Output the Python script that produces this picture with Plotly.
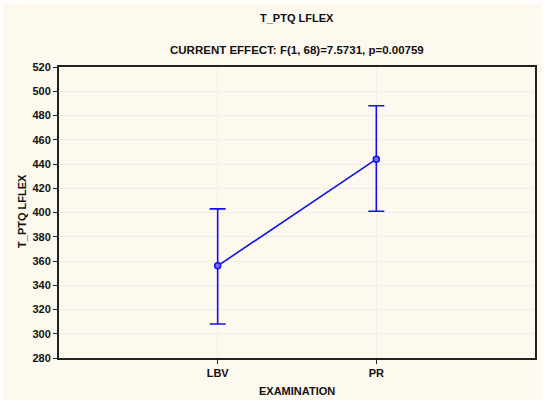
import plotly.graph_objects as go

# values
examinations = ["LBV", "PR"]
means = [356, 444]
upper = [403, 488]
lower = [308, 401]
y_ticks = list(range(280, 521, 20))

err_plus = [u - m for u, m in zip(upper, means)]
err_minus = [m - l for m, l in zip(means, lower)]

BLUE = "#1010f0"
FONT = "Liberation Sans, Arial, sans-serif"
DARK = "#222222"

fig = go.Figure(
    go.Scatter(
        x=[0, 1],
        y=means,
        mode="lines+markers",
        line=dict(color=BLUE, width=1.6),
        marker=dict(symbol="circle", size=6, color="#6f6ff7", line=dict(color=BLUE, width=1.5)),
        error_y=dict(type="data", symmetric=False, array=err_plus, arrayminus=err_minus,
                     color=BLUE, thickness=1.6, width=8),
        showlegend=False,
    )
)

text_common = dict(xref="paper", yref="paper", showarrow=False, xanchor="center", yanchor="middle")

fig.update_layout(
    width=550,
    height=409,
    margin=dict(l=59, r=15, t=67, b=51),
    paper_bgcolor="white",
    plot_bgcolor="white",
    font=dict(family=FONT, size=11, color="#111111"),
    annotations=[
        dict(text="<b>T_PTQ LFLEX</b>", x=0.5, y=1.168, font=dict(size=11), **text_common),
        dict(text="<b>CURRENT EFFECT: F(1, 68)=7.5731, p=0.00759</b>", x=0.5, y=1.058,
             font=dict(size=11.5), **text_common),
        dict(text="<b>EXAMINATION</b>", x=0.5, y=-0.113, font=dict(size=11), **text_common),
        dict(text="<b>T_PTQ LFLEX</b>", x=-0.078, y=0.505, textangle=-90,
             font=dict(size=11), **text_common),
    ],
    # cream frame of the figure, leaving a thin white edge
    shapes=[
        dict(type="rect", xref="paper", yref="paper", x0=-0.118, x1=1.015, y0=-0.144, y1=1.22,
             fillcolor="#fdf9ef", line=dict(width=0), layer="below"),
    ],
    xaxis=dict(
        range=[-1, 2],
        tickvals=[0, 1],
        ticktext=[f"<b>{e}</b>" for e in examinations],
        showline=True, linecolor=DARK, linewidth=2, mirror=True,
        ticks="outside", ticklen=4, tickcolor=DARK,
        showgrid=True, gridcolor="#eeeeee", gridwidth=1,
        zeroline=False, automargin=False,
        tickfont=dict(size=11),
    ),
    yaxis=dict(
        range=[280, 520],
        tickvals=y_ticks,
        ticktext=[f"<b>{t}</b>" for t in y_ticks],
        showline=True, linecolor=DARK, linewidth=2, mirror=True,
        ticks="outside", ticklen=4, tickcolor=DARK,
        showgrid=True, gridcolor="#eeeeee", gridwidth=1,
        zeroline=False, automargin=False,
        tickfont=dict(size=11),
    ),
    # inward ticks on the right and top frame
    yaxis2=dict(overlaying="y", side="right", range=[280, 520], tickvals=y_ticks,
                showticklabels=False, ticks="inside", ticklen=4, tickcolor=DARK,
                showgrid=False, zeroline=False, showline=False),
    xaxis2=dict(overlaying="x", side="top", range=[-1, 2], tickvals=[0, 1],
                showticklabels=False, ticks="inside", ticklen=4, tickcolor=DARK,
                showgrid=False, zeroline=False, showline=False),
)

fig.write_html("out.html", config={"displayModeBar": False},
               post_script="document.body.style.margin='0';")
